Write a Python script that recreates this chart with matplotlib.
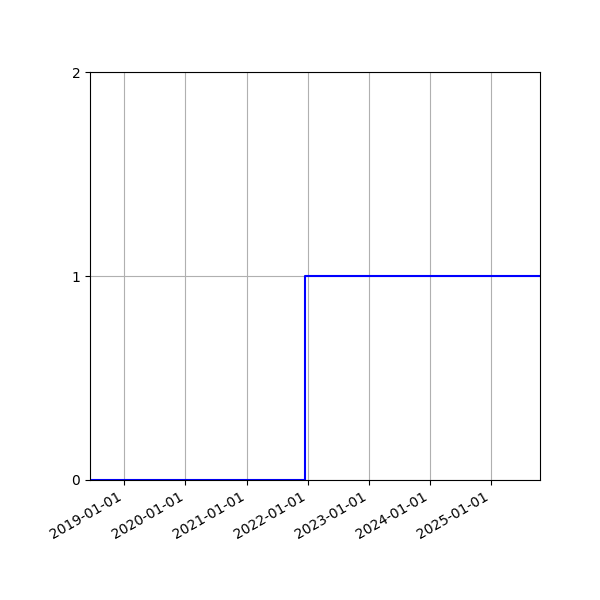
import matplotlib
matplotlib.use('Agg')
import matplotlib.pyplot as plt
import matplotlib.dates as mdates
import numpy as np

dates = np.array(['2018-06-10', '2021-12-14', '2025-10-21'], dtype='datetime64[D]')
values = [0, 1, 1]

fig, ax = plt.subplots(figsize=(6, 6), dpi=100)
ax.step(dates, values, where='post', color='blue')
ax.set_xlim(dates[0], dates[-1])
ax.set_ylim(0, 2)
ax.set_yticks([0, 1, 2])
ax.xaxis.set_major_locator(mdates.YearLocator())
ax.xaxis.set_major_formatter(mdates.DateFormatter('%Y-%m-%d'))
ax.grid(True)
fig.autofmt_xdate()
fig.subplots_adjust(left=0.15, right=0.9, top=0.88, bottom=0.2)
plt.savefig('out.png')
